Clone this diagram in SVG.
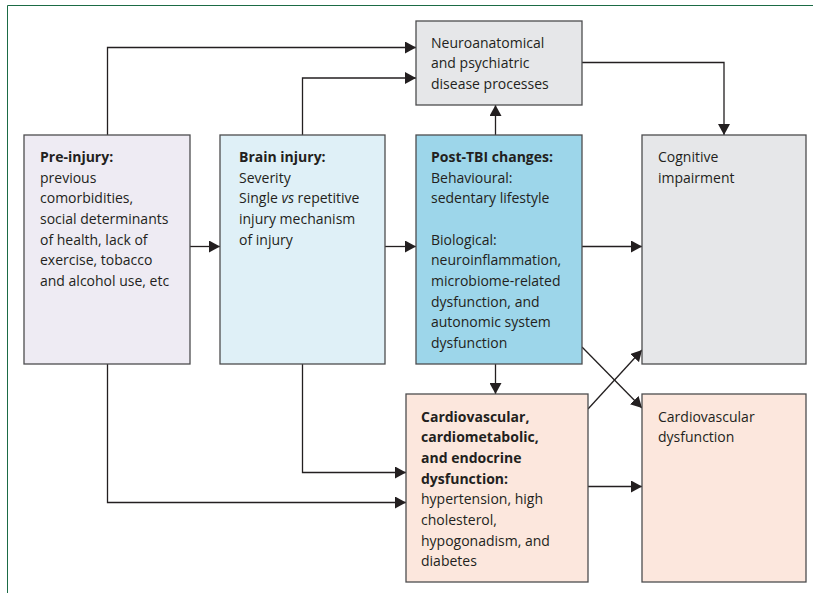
<svg xmlns="http://www.w3.org/2000/svg" width="813" height="593" viewBox="0 0 813 593">
<defs>
<marker id="ah" markerUnits="userSpaceOnUse" markerWidth="12" markerHeight="12" refX="11" refY="6" orient="auto">
<path d="M0,0 L11,6 L0,12 z" fill="#231f20"/>
</marker>
<style>
.box{stroke:#4d4d4f;stroke-width:1.3}
.t{font-family:"Open Sans","Liberation Sans",sans-serif;font-size:14px;fill:#231f20}
.b{font-weight:bold}
.c{fill:none;stroke:#231f20;stroke-width:1.3;marker-end:url(#ah)}
</style>
</defs>
<rect width="813" height="593" fill="#fff"/>
<path d="M7.5,593 V5.5 H813" fill="none" stroke="#1b6b45" stroke-width="1"/>
<g id="connectors">
<path class="c" d="M107.5,135 V47.5 H416"/>
<path class="c" d="M302.5,135 V78 H416"/>
<path class="c" d="M190,246.5 H220"/>
<path class="c" d="M385,246.5 H416"/>
<path class="c" d="M582,246.5 H642"/>
<path class="c" d="M495.5,135 V105"/>
<path class="c" d="M582,62.5 H724 V135"/>
<path class="c" d="M495.5,364 V394"/>
<path class="c" d="M302.5,364 V472.5 H406"/>
<path class="c" d="M107.5,364 V502.5 H406"/>
<path class="c" d="M588,486.5 H642"/>
<path class="c" d="M582,347 L642,408"/>
<path class="c" d="M588,409 L642,350"/>
</g>
<g id="neuro">
<rect class="box" x="416" y="21" width="166" height="84" fill="#e6e7e9"/>
<text class="t" x="431" y="47.7">Neuroanatomical</text>
<text class="t" x="431" y="68.3">and psychiatric</text>
<text class="t" x="431" y="89">disease processes</text>
</g>
<g id="preinjury">
<rect class="box" x="24" y="135" width="166" height="229" fill="#eeebf3"/>
<text class="t b" x="40" y="162">Pre-injury:</text>
<text class="t" x="40" y="182.7">previous</text>
<text class="t" x="40" y="203.3">comorbidities,</text>
<text class="t" x="40" y="224">social determinants</text>
<text class="t" x="40" y="244.7">of health, lack of</text>
<text class="t" x="40" y="265.3">exercise, tobacco</text>
<text class="t" x="40" y="286">and alcohol use, etc</text>
</g>
<g id="braininjury">
<rect class="box" x="220" y="135" width="165" height="229" fill="#dff0f7"/>
<text class="t b" x="239" y="162">Brain injury:</text>
<text class="t" x="239" y="182.7">Severity</text>
<text class="t" x="239" y="203.3">Single <tspan font-style="italic">vs</tspan> repetitive</text>
<text class="t" x="239" y="224">injury mechanism</text>
<text class="t" x="239" y="244.7">of injury</text>
</g>
<g id="posttbi">
<rect class="box" x="416" y="135" width="166" height="229" fill="#9dd6ea"/>
<text class="t b" x="431" y="162">Post-TBI changes:</text>
<text class="t" x="431" y="182.7">Behavioural:</text>
<text class="t" x="431" y="203.3">sedentary lifestyle</text>
<text class="t" x="431" y="244.7">Biological:</text>
<text class="t" x="431" y="265.3">neuroinflammation,</text>
<text class="t" x="431" y="286">microbiome-related</text>
<text class="t" x="431" y="306.7">dysfunction, and</text>
<text class="t" x="431" y="327.3">autonomic system</text>
<text class="t" x="431" y="348">dysfunction</text>
</g>
<g id="cognitive">
<rect class="box" x="642" y="135" width="164" height="229" fill="#e6e7e9"/>
<text class="t" x="658" y="162">Cognitive</text>
<text class="t" x="658" y="182.7">impairment</text>
</g>
<g id="cardio">
<rect class="box" x="406" y="394" width="182" height="188" fill="#fce7dd"/>
<text class="t b" x="421" y="421.7">Cardiovascular,</text>
<text class="t b" x="421" y="442.3">cardiometabolic,</text>
<text class="t b" x="421" y="463">and endocrine</text>
<text class="t b" x="421" y="483.7">dysfunction:</text>
<text class="t" x="421" y="504.3">hypertension, high</text>
<text class="t" x="421" y="525">cholesterol,</text>
<text class="t" x="421" y="545.7">hypogonadism, and</text>
<text class="t" x="421" y="566.3">diabetes</text>
</g>
<g id="cvdysfunction">
<rect class="box" x="642" y="394" width="164" height="188" fill="#fce7dd"/>
<text class="t" x="658" y="421.7">Cardiovascular</text>
<text class="t" x="658" y="442.3">dysfunction</text>
</g>
</svg>
